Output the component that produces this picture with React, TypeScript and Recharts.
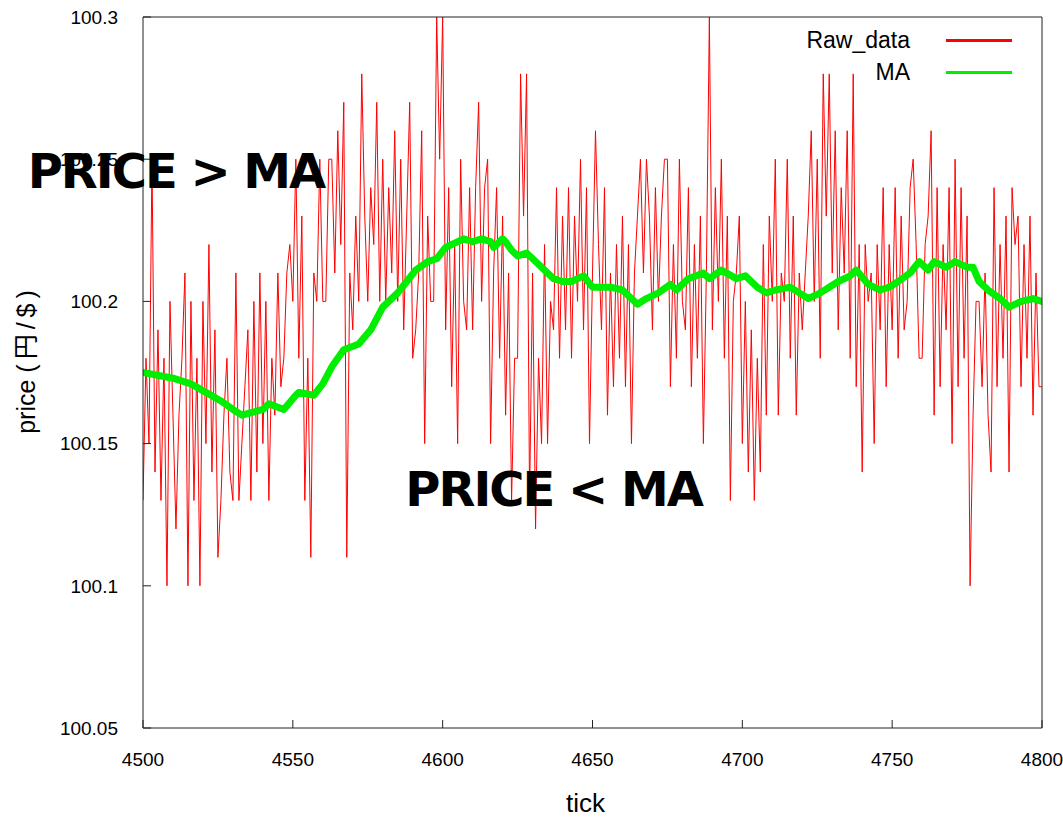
import React from 'react';
import {
  LineChart,
  Line,
  XAxis,
  YAxis,
  Legend,
  Label,
  ReferenceDot,
} from 'recharts';

// raw price, one value per tick starting at 4500
const tickStart = 4500;
const rawPrice = [
  100.13, 100.18, 100.15, 100.25, 100.14, 100.19, 100.13, 100.18, 100.10, 100.20,
  100.16, 100.12, 100.16, 100.18, 100.21, 100.10, 100.20, 100.13, 100.18, 100.10,
  100.20, 100.15, 100.22, 100.14, 100.19, 100.11, 100.13, 100.16, 100.18, 100.14,
  100.13, 100.21, 100.13, 100.15, 100.17, 100.19, 100.13, 100.20, 100.14, 100.21,
  100.15, 100.20, 100.13, 100.18, 100.16, 100.21, 100.17, 100.18, 100.21, 100.22,
  100.20, 100.25, 100.18, 100.23, 100.13, 100.18, 100.11, 100.21, 100.20, 100.25,
  100.20, 100.20, 100.25, 100.25, 100.21, 100.26, 100.22, 100.27, 100.11, 100.21,
  100.19, 100.23, 100.20, 100.28, 100.23, 100.20, 100.24, 100.22, 100.27, 100.20,
  100.25, 100.20, 100.24, 100.21, 100.26, 100.20, 100.25, 100.19, 100.23, 100.27,
  100.18, 100.19, 100.21, 100.26, 100.15, 100.23, 100.20, 100.20, 100.30, 100.25,
  100.30, 100.19, 100.24, 100.17, 100.22, 100.15, 100.25, 100.20, 100.19, 100.24,
  100.19, 100.24, 100.27, 100.20, 100.24, 100.25, 100.15, 100.21, 100.24, 100.18,
  100.23, 100.16, 100.21, 100.13, 100.18, 100.18, 100.28, 100.23, 100.28, 100.13,
  100.21, 100.12, 100.18, 100.15, 100.22, 100.15, 100.20, 100.19, 100.24, 100.18,
  100.23, 100.19, 100.24, 100.18, 100.23, 100.20, 100.25, 100.19, 100.24, 100.15,
  100.21, 100.26, 100.22, 100.19, 100.24, 100.16, 100.21, 100.17, 100.22, 100.18,
  100.23, 100.17, 100.22, 100.15, 100.21, 100.23, 100.25, 100.21, 100.25, 100.23,
  100.19, 100.24, 100.20, 100.23, 100.25, 100.25, 100.17, 100.22, 100.18, 100.25,
  100.20, 100.19, 100.24, 100.17, 100.22, 100.18, 100.23, 100.15, 100.21, 100.30,
  100.19, 100.24, 100.20, 100.25, 100.18, 100.23, 100.13, 100.20, 100.21, 100.23,
  100.15, 100.20, 100.14, 100.19, 100.13, 100.18, 100.14, 100.22, 100.16, 100.23,
  100.20, 100.25, 100.16, 100.21, 100.20, 100.25, 100.18, 100.23, 100.16, 100.21,
  100.19, 100.21, 100.23, 100.26, 100.20, 100.25, 100.18, 100.28, 100.23, 100.28,
  100.21, 100.26, 100.19, 100.24, 100.21, 100.26, 100.18, 100.28, 100.17, 100.22,
  100.14, 100.22, 100.20, 100.21, 100.15, 100.22, 100.19, 100.24, 100.17, 100.22,
  100.19, 100.24, 100.18, 100.23, 100.19, 100.20, 100.24, 100.25, 100.22, 100.18,
  100.18, 100.22, 100.23, 100.26, 100.16, 100.24, 100.17, 100.22, 100.19, 100.24,
  100.15, 100.25, 100.17, 100.24, 100.18, 100.23, 100.10, 100.16, 100.20, 100.20,
  100.17, 100.21, 100.16, 100.14, 100.24, 100.17, 100.22, 100.18, 100.23, 100.14,
  100.24, 100.22, 100.23, 100.17, 100.22, 100.18, 100.23, 100.16, 100.21, 100.17,
  100.17,
];

// moving average
const maTick = [
  4500, 4510, 4516, 4521, 4526, 4530, 4533, 4540, 4542, 4547,
  4551, 4552, 4557, 4560, 4563, 4567, 4572, 4576, 4580, 4585,
  4588, 4591, 4595, 4598, 4601, 4607, 4610, 4613, 4616, 4617,
  4620, 4621, 4623, 4625, 4628, 4631, 4635, 4637, 4640, 4643,
  4647, 4650, 4656, 4660, 4665, 4668, 4672, 4676, 4678, 4682,
  4687, 4689, 4693, 4698, 4701, 4705, 4708, 4711, 4716, 4719,
  4722, 4726, 4729, 4732, 4736, 4738, 4742, 4746, 4749, 4752,
  4756, 4759, 4762, 4764, 4768, 4771, 4775, 4777, 4779, 4782,
  4786, 4789, 4793, 4797, 4800,
];
const maValue = [
  100.175, 100.173, 100.171, 100.168, 100.165, 100.162, 100.16, 100.162, 100.164, 100.162,
  100.167, 100.168, 100.167, 100.171, 100.177, 100.183, 100.185, 100.19, 100.198, 100.203,
  100.207, 100.211, 100.214, 100.215, 100.219, 100.222, 100.221, 100.222, 100.221, 100.219,
  100.222, 100.221, 100.218, 100.216, 100.217, 100.214, 100.21, 100.208, 100.207, 100.207,
  100.209, 100.205, 100.205, 100.204, 100.199, 100.201, 100.203, 100.206, 100.204, 100.208,
  100.21, 100.208, 100.211, 100.208, 100.209, 100.205, 100.203, 100.204, 100.205, 100.203,
  100.201, 100.203, 100.205, 100.207, 100.209, 100.211, 100.206, 100.204, 100.205, 100.207,
  100.21, 100.214, 100.211, 100.214, 100.212, 100.214, 100.212, 100.212, 100.207, 100.204,
  100.201, 100.198, 100.2, 100.201, 100.2,
];

const xTicks = [4500, 4550, 4600, 4650, 4700, 4750, 4800];
const yTicks = [100.05, 100.1, 100.15, 100.2, 100.25, 100.3];
const legendOrder = ['Raw_data', 'MA'];

const rawRows = rawPrice.map((p, i) => ({ tick: tickStart + i, price: p }));
const maRows = maTick.map((t, i) => ({ tick: t, ma: maValue[i] }));

const FONT = '"Liberation Sans", Arial, "Noto Sans CJK JP", sans-serif';
const BORDER = '#222';

const renderLegend = (props: any) => {
  const items = [...(props.payload || [])].sort(
    (a: any, b: any) => legendOrder.indexOf(a.value) - legendOrder.indexOf(b.value)
  );
  return (
    <div style={{ fontFamily: FONT, fontSize: 23, color: '#000' }}>
      {items.map((item: any) => (
        <div key={item.value} style={{ display: 'flex', alignItems: 'center', height: 32 }}>
          <span style={{ width: 120, textAlign: 'right' }}>{item.value}</span>
          <span style={{ width: 66, height: 3, marginLeft: 36, background: item.color }} />
        </div>
      ))}
    </div>
  );
};

const bigText = (text: string) => (props: any) => (
  <text
    x={props.cx}
    y={props.cy}
    textAnchor="middle"
    fontFamily='"DejaVu Sans", Verdana, sans-serif'
    fontWeight="bold"
    fontSize={48}
    letterSpacing={-2}
    fill="#000"
  >
    {text}
  </text>
);

const App: React.FC = () => {
  return (
    <div style={{ position: 'absolute', left: 0, top: 0, width: 1063, height: 819, background: '#fff' }}>
      <LineChart
        width={1063}
        height={819}
        data={rawRows}
        margin={{ top: 16, right: 20, left: 0, bottom: 0 }}
      >
        <XAxis
          dataKey="tick"
          type="number"
          domain={[4500, 4800]}
          ticks={xTicks}
          allowDataOverflow
          height={91}
          tickSize={-8}
          tickMargin={33}
          stroke={BORDER}
          tick={{ fill: '#000', fontSize: 19, fontFamily: FONT }}
        >
          <Label
            content={(p: any) => (
              <text
                x={p.viewBox.x + p.viewBox.width / 2 - 7}
                y={p.viewBox.y + 84}
                textAnchor="middle"
                fontFamily={FONT}
                fontSize={26}
                fill="#000"
              >
                tick
              </text>
            )}
          />
        </XAxis>
        <XAxis
          xAxisId="top"
          orientation="top"
          type="number"
          domain={[4500, 4800]}
          ticks={xTicks}
          allowDataOverflow
          height={1}
          tickSize={-8}
          tick={false}
          stroke={BORDER}
        />
        <YAxis
          type="number"
          domain={[100.05, 100.3]}
          ticks={yTicks}
          allowDataOverflow
          width={143}
          tickSize={-8}
          tickMargin={33}
          stroke={BORDER}
          tick={{ fill: '#000', fontSize: 19, fontFamily: FONT }}
        >
          <Label
            content={(p: any) => {
              const cx = p.viewBox.x + 26;
              const cy = p.viewBox.y + p.viewBox.height / 2 - 13;
              return (
                <text
                  x={cx}
                  y={cy}
                  transform={`rotate(-90, ${cx}, ${cy})`}
                  textAnchor="middle"
                  dominantBaseline="central"
                  fontFamily={FONT}
                  fontSize={25}
                  fill="#000"
                >
                  <tspan>price </tspan>
                  <tspan letterSpacing={5}>(円/$)</tspan>
                </text>
              );
            }}
          />
        </YAxis>
        <YAxis
          yAxisId="right"
          orientation="right"
          type="number"
          domain={[100.05, 100.3]}
          ticks={yTicks}
          allowDataOverflow
          width={1}
          tickSize={-8}
          tick={false}
          stroke={BORDER}
        />
        <Legend
          layout="vertical"
          align="center"
          verticalAlign="middle"
          wrapperStyle={{ left: 790, top: 24, width: 240 }}
          content={renderLegend}
        />
        <Line
          type="linear"
          dataKey="price"
          name="Raw_data"
          stroke="#ff0000"
          strokeWidth={1}
          dot={false}
          isAnimationActive={false}
        />
        <Line
          type="linear"
          data={maRows}
          dataKey="ma"
          name="MA"
          stroke="#00ee00"
          strokeWidth={7}
          strokeLinejoin="round"
          strokeLinecap="round"
          dot={false}
          isAnimationActive={false}
        />
        <ReferenceDot x={4511} y={100.24} r={0} shape={bigText('PRICE > MA')} />
        <ReferenceDot x={4637} y={100.128} r={0} shape={bigText('PRICE < MA')} />
      </LineChart>
    </div>
  );
};

export default App;
